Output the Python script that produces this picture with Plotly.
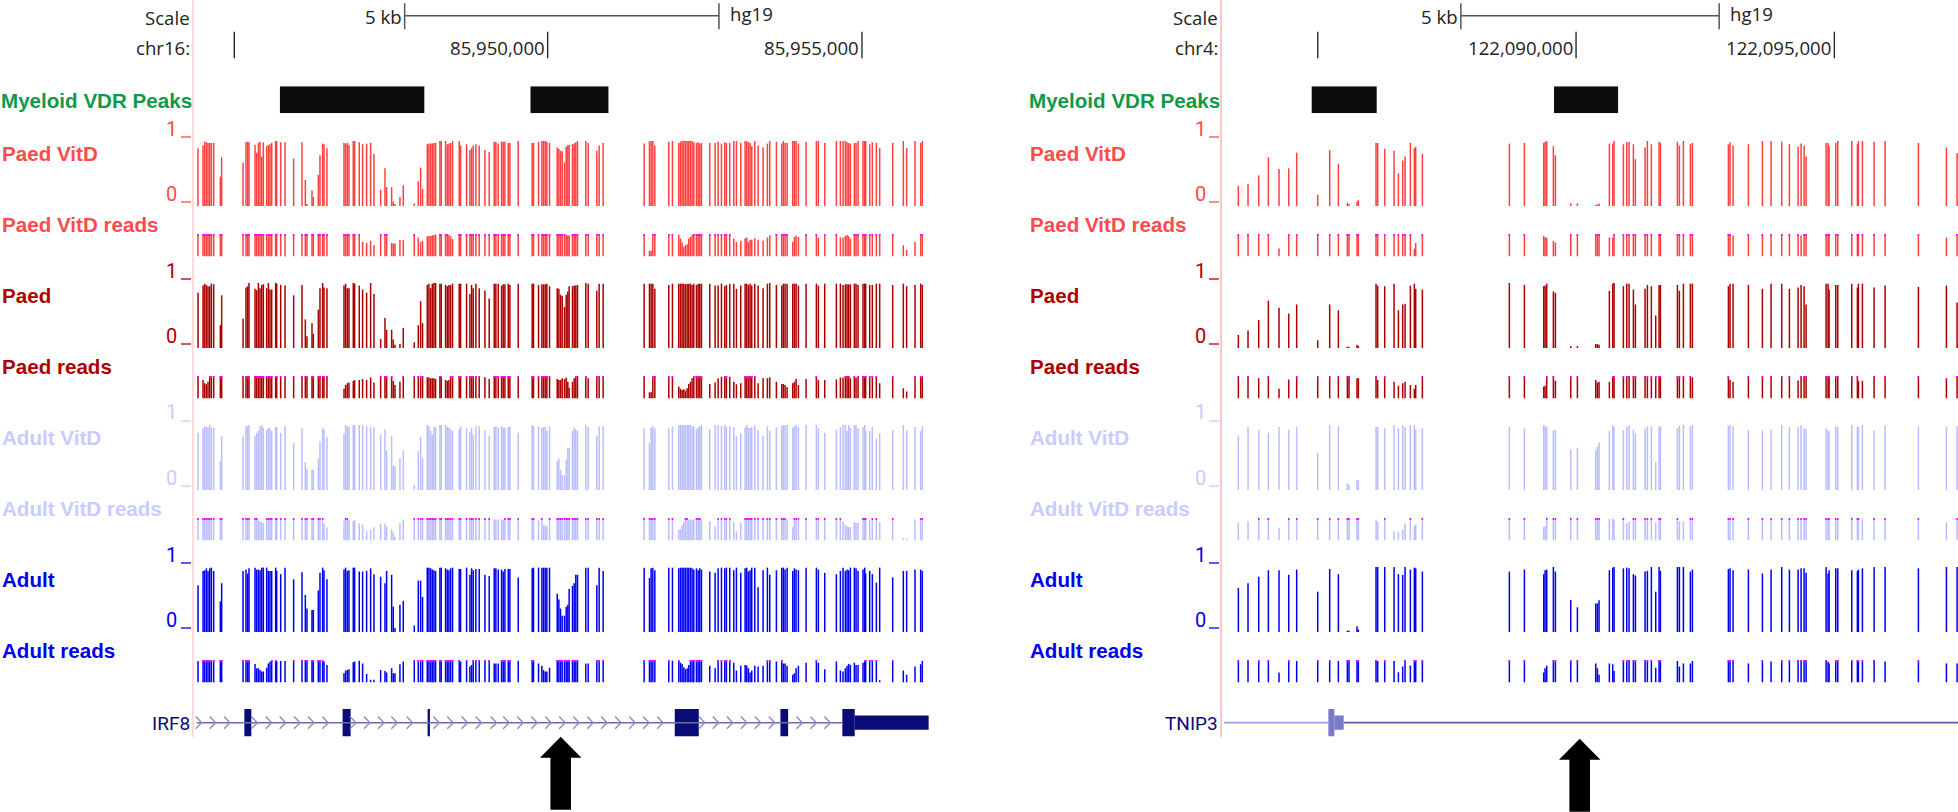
import plotly.graph_objects as go

W, H = 1958, 812

# ---------------- region 1: IRF8, chr16 ----------------
IRF8_REF = 85945000
IRF8_SITES = [
-562,-482,-456,-429,-403,-376,-350,-313,-207,-186,
154,201,228,249,345,371,398,424,451,477,530,557,583,610,673,689,753,822,
959,1092,1145,1171,1251,1272,1352,1378,1420,1442,1489,
1760,1786,1813,1839,1908,1929,2003,2056,2120,2184,2237,
2343,2412,2438,2518,2544,2571,2650,2703,
2878,2942,2979,3010,
3085,3111,3138,3164,3191,3217,3286,3307,3376,3403,3429,3456,3487,
3593,3615,
3710,3763,3790,3816,3858,3911,4002,4070,4150,4176,4214,
4267,4293,4320,4373,4399,4532,
4754,4775,4855,4908,4934,4961,4987,5030,
5152,5178,5205,5231,5268,5295,5321,5342,5395,5422,5448,5475,
5607,5645,5782,5819,5883,
6535,6620,6646,6673,6705,
6927,6985,7086,7113,7139,7166,7192,7219,7245,7272,7298,7325,7367,7394,7420,7447,
7579,7664,7712,7765,7818,7844,7897,7961,8003,8072,8141,8167,8194,8220,8247,8295,8348,8427,8496,8533,
8639,8724,8750,8777,8809,
8899,8925,8952,8989,
9111,9275,9307,9408,
9593,9657,9699,9736,9763,9789,9816,
9879,9906,9938,
10017,10044,10059,
10123,10165,10229,10282,10489,
10658,10711,10844,10934,10960]

IRF8_PAED_VITD = [
89,93,99,98,97,97,97,97,45,75,
67,98,99,98,94,82,97,99,76,98,92,94,95,97,100,100,98,98,
73,98,40,3,24,14,48,78,96,95,89,
97,96,97,94,100,100,98,95,96,97,80,
25,58,29,29,7,3,14,32,
4,38,59,26,
95,96,96,96,97,97,100,100,100,95,96,97,100,
100,93,
95,86,89,93,95,93,86,83,99,99,96,
99,99,99,97,97,100,
97,97,99,100,100,100,99,97,
90,88,85,84,67,91,94,94,95,96,98,100,
100,97,85,93,97,
96,100,100,100,93,
99,100,97,99,100,100,100,100,100,100,100,98,97,98,96,97,
97,97,99,96,98,97,97,100,100,97,100,99,99,97,92,100,93,90,96,100,
99,96,100,97,97,
100,100,100,96,
99,100,100,97,
100,100,100,100,98,97,96,
97,97,100,
100,100,100,
95,98,97,89,97,
100,89,100,97,100]
IRF8_PAED_VITD_READS = [
100,100,100,100,100,100,100,100,100,100,
100,100,100,100,100,100,100,100,100,100,100,100,100,100,100,100,100,100,
100,100,100,100,100,100,100,100,100,100,100,
100,100,100,100,100,100,100,65,60,70,50,
100,100,100,60,58,58,75,72,
100,84,65,70,
90,91,91,94,94,98,100,100,100,100,97,90,78,
100,100,
100,100,100,100,100,100,100,100,100,100,100,
100,100,100,100,100,100,
100,100,100,100,100,100,100,100,
100,100,100,100,100,97,94,92,100,100,100,100,
100,100,100,100,100,
100,26,26,100,100,
100,100,97,80,62,43,50,55,80,87,97,100,100,100,100,100,
100,100,100,100,100,100,100,80,65,70,80,84,65,75,75,81,75,70,84,94,
100,100,100,100,100,
65,87,93,87,
100,100,83,100,
100,84,84,91,96,90,80,
100,100,100,
100,100,100,
100,100,100,100,100,
50,29,65,100,100]
IRF8_PAED = [
85,96,99,97,95,95,99,98,35,81,
45,93,95,100,91,89,100,92,97,98,92,100,90,90,100,99,97,96,
81,97,44,18,38,22,59,92,100,93,92,
96,99,92,92,100,99,96,90,85,100,83,
14,46,28,28,13,5,6,31,
9,35,72,38,
97,99,92,99,100,100,99,99,97,95,97,97,99,
99,99,
99,83,97,92,99,92,88,76,99,99,99,
96,98,98,99,97,99,
99,99,97,98,98,98,99,95,
92,91,82,80,63,82,87,95,95,96,96,97,
100,99,88,99,99,
99,99,99,99,91,
97,99,99,99,99,99,98,99,99,99,97,99,97,99,99,99,
99,96,96,99,95,97,99,99,91,96,99,99,97,99,96,99,96,92,99,100,
97,96,99,99,99,
99,99,99,96,
99,99,96,99,
99,99,97,98,98,98,98,
99,99,97,
99,99,99,
97,97,99,99,97,
99,95,97,99,97]
IRF8_PAED_READS = [
100,82,68,63,75,100,100,100,100,100,
100,100,100,100,100,100,100,100,100,100,100,100,100,100,100,100,100,100,
100,100,100,100,100,100,100,100,100,100,100,
43,60,68,71,78,82,82,87,82,93,71,
100,100,100,100,78,60,75,100,
100,100,100,100,
95,93,90,90,90,87,100,100,82,78,82,100,100,
100,100,
100,100,100,100,100,100,94,87,100,100,100,
100,100,100,100,100,100,
100,100,100,100,100,100,100,100,
87,82,82,90,87,93,75,48,75,90,100,100,
100,90,100,100,100,
100,28,28,100,100,
100,100,53,43,38,41,34,46,65,75,90,100,100,100,100,100,
65,71,90,97,100,100,97,75,63,68,100,100,100,100,100,100,68,90,90,94,
75,65,65,60,50,
68,75,87,60,
87,100,82,82,
85,93,93,100,100,100,90,
100,93,100,
100,100,100,
100,100,100,68,100,
46,31,100,100,100]
IRF8_ADULT_VITD = [
88,95,98,97,96,100,96,96,45,83,
82,98,98,100,83,88,91,98,100,96,92,96,95,91,97,97,88,98,
72,95,43,33,31,31,48,75,96,93,82,
87,100,98,97,100,100,100,100,98,97,96,
85,93,60,83,37,36,49,60,
8,60,82,49,
100,98,91,85,96,97,100,100,100,97,96,93,91,
93,98,
95,90,96,85,98,98,92,83,97,98,96,
98,96,96,97,98,88,
100,98,98,96,96,97,91,98,
44,48,31,23,23,47,65,65,91,96,93,91,
100,97,84,98,98,
95,72,96,98,95,
95,98,100,100,100,100,99,100,100,100,98,98,94,96,98,100,
93,100,100,98,100,97,98,97,83,87,96,100,96,95,97,100,92,83,98,91,
96,98,100,100,100,
96,98,100,97,
100,100,95,88,
93,97,100,100,91,100,96,
100,100,95,
97,100,91,
91,97,79,87,92,
100,92,97,91,98]
IRF8_ADULT_VITD_READS = [
100,100,100,100,100,100,100,100,100,100,
100,100,100,100,100,100,90,85,81,78,100,100,100,100,100,100,100,100,
100,100,100,100,100,100,100,100,100,74,59,
90,100,100,93,85,90,75,71,41,49,59,
74,74,63,49,34,15,78,93,
100,100,100,100,
100,100,100,100,100,100,100,100,100,100,100,100,100,
100,100,
100,100,100,100,100,100,100,100,93,93,93,
93,93,100,100,100,100,
100,100,90,100,68,68,63,100,
100,100,100,100,100,100,100,100,100,100,100,100,
100,100,100,100,100,
100,100,100,100,100,
100,100,49,49,71,82,100,100,93,93,93,93,100,100,100,93,
85,62,100,100,100,100,100,81,41,78,100,100,100,100,100,100,100,100,100,100,
100,100,100,100,93,
59,100,100,100,
100,100,100,100,
100,100,85,71,63,59,59,
82,78,78,
100,100,100,
90,100,100,82,100,
9,9,93,100,100]
IRF8_ADULT = [
72,94,95,98,94,98,99,94,47,75,
94,96,90,98,99,96,96,95,99,99,99,94,94,94,99,94,89,99,
81,92,57,36,34,34,64,91,99,95,81,
96,99,94,95,99,99,93,93,94,98,89,
85,75,94,88,39,6,42,48,
10,79,79,54,
99,99,98,96,95,94,99,99,98,96,95,98,99,
97,97,
99,88,98,95,97,97,88,86,98,98,96,
96,93,97,97,97,84,
98,99,99,99,99,99,99,99,
59,50,36,25,25,39,42,66,71,75,88,88,
99,99,72,99,94,
99,83,98,99,95,
99,99,98,99,99,99,99,99,99,99,98,96,98,95,98,96,
93,91,98,99,98,99,99,95,99,91,98,99,93,95,99,99,69,95,99,88,
95,99,99,96,99,
94,98,96,95,
99,99,96,91,
89,94,99,94,96,95,99,
99,98,94,
96,99,90,
94,89,76,99,84,
94,94,96,96,94]
IRF8_ADULT_READS = [
96,100,100,100,100,100,100,100,100,100,
100,100,100,100,82,63,63,56,49,49,66,85,93,100,100,96,96,96,
100,100,100,100,100,100,100,100,100,93,78,
41,53,56,59,90,93,97,85,38,12,12,
56,51,44,63,41,41,81,93,
100,100,100,100,
100,100,100,100,100,100,100,100,100,100,100,100,100,
100,93,
100,71,78,100,100,100,100,100,85,85,85,
100,100,100,100,100,97,
100,100,85,74,56,49,49,66,
100,100,100,100,100,100,100,100,100,100,100,100,
85,85,100,100,100,
100,100,100,100,100,
100,97,100,88,82,68,59,63,78,100,100,100,100,100,100,100,
74,63,100,100,100,100,100,88,53,74,78,76,63,44,53,74,71,74,100,100,
93,100,85,85,74,
34,41,63,74,
88,100,88,59,
93,53,49,63,74,82,78,
88,78,78,
88,100,100,
100,100,100,10,100,
53,34,71,81,96]

IRF8_PEAK_START = [741, 4727]
IRF8_PEAK_END = [3038, 5967]
IRF8_LINE = [-583, 9688]
IRF8_EXON_START = [175, 1738, 3090, 7022, 8703, 9688]
IRF8_EXON_END = [286, 1866, 3127, 7404, 8825, 9885]
IRF8_UTR_START = [9885]
IRF8_UTR_END = [11061]
IRF8_CHEVRONS = [
-503,-281,-53,
382,610,832,1060,1282,1510,
1950,2173,2396,2608,2852,
3276,3498,3726,3949,4187,
4388,4611,4834,5056,5279,5501,5724,5946,6169,6392,6614,6837,
7500,7722,7945,8168,8390,8613,
9052,9275,9498]
IRF8_TICKS = [15, 5000, 10000]
IRF8_TICK_TEXT = ["", "85,950,000", "85,955,000"]
IRF8_SCALE = [2725, 7725]

# ---------------- region 2: TNIP3, chr4 ----------------
TNIP3_REF = 122090000
TNIP3_SITES = [
-6537,-6350,-6143,-5956,-5750,-5562,-5408,
-5001,-4769,-4601,-4427,-4395,-4240,-4214,
-3872,-3840,-3704,-3523,-3439,-3356,-3310,-3207,-3130,-3104,-2975,
-1291,-1000,-626,-600,-568,-439,-400,-103,26,381,413,445,645,710,736,916,981,1026,1110,1149,
1336,1381,1458,1542,1607,1633,1962,2000,2078,2213,2252,
2949,2981,3039,3336,3607,3775,3981,4130,4298,4356,4414,4453,4840,4878,4898,5027,5066,
5337,5446,5466,5543,5769,5982,6627,7169,7376]
TNIP3_PAED_VITD = [
31,34,47,75,57,58,82,
17,86,65,5,3,7,9,
97,97,88,85,50,70,76,97,89,91,80,
96,97,97,99,100,92,78,4,4,2,2,4,96,96,100,95,98,99,95,72,
90,100,95,0,99,97,99,93,100,95,97,
95,98,93,95,100,100,99,95,91,96,93,76,97,97,92,97,100,
100,95,100,100,99,100,97,90,81]
TNIP3_PAED_VITD_READS = [
100,100,100,100,36,100,100,
100,100,100,100,100,100,100,
100,100,100,100,100,100,100,100,35,60,100,
100,100,91,85,85,70,62,100,100,100,100,100,85,85,100,100,100,100,100,100,
100,100,100,0,100,100,100,100,100,100,100,
100,100,95,100,100,100,100,100,100,95,100,100,100,100,100,100,100,
100,100,100,100,100,100,100,85,100]
TNIP3_PAED = [
20,27,43,73,62,53,67,
12,67,58,2,2,5,3,
99,96,95,99,58,67,68,96,99,91,90,
100,97,95,96,99,87,85,3,3,6,6,5,88,99,100,95,99,99,90,67,
91,97,95,50,97,97,97,88,99,99,99,
95,99,99,97,91,99,99,91,93,97,95,67,99,99,90,97,97,
99,93,99,99,93,96,94,96,70]
TNIP3_PAED_READS = [
100,100,90,100,43,85,100,
100,100,100,100,100,90,90,
100,82,100,75,57,68,75,60,43,60,100,
100,100,53,57,100,100,79,100,100,82,71,75,75,100,100,100,100,100,100,100,
100,100,100,100,100,100,100,100,100,100,94,
100,82,75,100,100,100,100,100,80,100,100,100,100,100,100,100,100,
100,100,79,79,100,100,100,90,100]
TNIP3_ADULT_VITD = [
84,97,92,88,97,93,97,
57,100,98,10,8,15,15,
97,97,95,100,95,100,97,100,100,93,95,
97,95,100,98,97,92,93,62,65,61,67,73,91,100,97,92,97,100,93,87,
95,98,98,43,98,97,95,99,100,98,100,
99,100,98,92,92,93,100,97,97,100,95,93,95,92,90,98,97,
100,97,98,100,91,100,98,97,98]
TNIP3_ADULT_VITD_READS = [
78,85,100,100,56,100,100,
100,100,100,100,100,100,100,
90,82,100,41,38,49,75,100,66,71,100,
100,100,62,62,100,100,100,100,100,100,100,100,96,98,90,100,75,82,100,100,
100,100,100,81,100,100,100,85,85,100,100,
100,100,100,100,100,100,100,100,100,100,100,100,100,100,100,100,100,
100,100,100,98,100,100,100,81,100]
TNIP3_ADULT = [
68,75,85,95,95,88,96,
62,97,89,2,2,9,4,
100,100,100,100,89,88,100,96,99,98,93,
93,96,89,95,96,100,93,49,38,44,44,49,95,99,100,98,99,98,89,87,
93,94,100,62,100,94,100,100,100,93,96,
97,98,95,96,90,96,100,96,96,98,98,91,100,90,95,98,98,
95,94,96,98,100,100,98,100,100]
TNIP3_ADULT_READS = [
100,100,100,100,44,100,96,
100,100,96,100,100,100,100,
100,96,100,96,46,71,100,76,100,100,100,
100,100,44,63,74,100,100,100,100,85,63,34,85,81,51,100,100,100,100,100,
100,100,100,66,100,100,96,71,85,85,96,
100,100,100,85,100,93,100,100,100,100,100,100,100,93,85,100,100,
100,100,100,100,100,93,100,85,85]

TNIP3_PEAK_START = [-5117, -426]
TNIP3_PEAK_END = [-3859, 813]
TNIP3_LINE_LIGHT = [-6815, -4795]
TNIP3_LINE_DARK = [-4498, 7396]
TNIP3_EXON_START = [-4795]
TNIP3_EXON_END = [-4678]
TNIP3_UTR_START = [-4678]
TNIP3_UTR_END = [-4498]
TNIP3_TICKS = [-5000, 0, 5000]
TNIP3_TICK_TEXT = ["", "122,090,000", "122,095,000"]
TNIP3_SCALE = [-2230, 2770]

# ---------------- track styling ----------------
TRACK_NAMES = ["Paed VitD", "Paed VitD reads", "Paed", "Paed reads",
               "Adult VitD", "Adult VitD reads", "Adult", "Adult reads"]
TRACK_COLORS = ["#FF4040", "#FF4040", "#AA0000", "#AA0000",
                "#BABEFF", "#BABEFF", "#0000F0", "#0000F0"]
LABEL_COLORS = ["#FF4B4B", "#FF4B4B", "#AE0000", "#AE0000",
                "#C8CCFF", "#C8CCFF", "#0000F0", "#0000F0"]
GREEN = "#0E9A48"
NAVY = "#0A0A78"
MAGENTA = "#FF00FF"
TEXT_FONT = "Open Sans"
TEXT_SIZE = 18.6
LABEL_SIZE = 20.6


def px_x(p):
    return p / W


def px_y(p):
    return 1 - p / H


fig = go.Figure()
layout = dict(
    width=W, height=H, autosize=False, margin=dict(l=0, r=0, t=0, b=0, pad=0),
    paper_bgcolor="white", plot_bgcolor="white", barmode="overlay", showlegend=False,
    hovermode=False, annotations=[], shapes=[],
)
axis_counter = [0]


def new_y(xname, top, bottom, yrange):
    axis_counter[0] += 1
    n = axis_counter[0]
    key = "yaxis" if n == 1 else f"yaxis{n}"
    layout[key] = dict(domain=[px_y(bottom), px_y(top)], range=yrange, visible=False,
                       anchor=xname, fixedrange=True)
    return "y" if n == 1 else f"y{n}"


def note(text, x, y, color, size, anchor="left", bold=False, family="Liberation Sans"):
    t = f"<b>{text}</b>" if bold else text
    layout["annotations"].append(dict(
        text=t, x=px_x(x), y=px_y(y), xref="paper", yref="paper", xanchor=anchor, yanchor="middle",
        showarrow=False, borderpad=0, font=dict(color=color, size=size, family=family)))


def data_note(text, x, xname, y, xshift, anchor):
    layout["annotations"].append(dict(
        text=text, x=x, y=px_y(y), xref=xname, yref="paper", xanchor=anchor,
        yanchor="middle", xshift=xshift, showarrow=False, borderpad=0,
        font=dict(color="#222222", size=TEXT_SIZE, family=TEXT_FONT)))


def stems(xs, lows, highs, xname, yname, color, width):
    """One vertical stroke per site, from low to high on the track's own scale."""
    sx, sy = [], []
    for x, a, b in zip(xs, lows, highs):
        if b > a:
            sx += [x, x, None]
            sy += [a, b, None]
    fig.add_trace(go.Scatter(x=sx, y=sy, xaxis=xname, yaxis=yname, mode="lines",
                             line=dict(color=color, width=width)))


def panel(xname, xkey, ref, sites, tracks, range_lo, line_x1, px_per_bp, bar_px,
          label_x, tick_x0, tick_x1, num_x, red_x, red_w,
          ticks, tick_text, chrom, scale, peak_s, peak_e, gene_name, arrow_x, arrow_top):
    layout[xkey] = dict(domain=[px_x(red_x), px_x(line_x1)], visible=False, fixedrange=True,
                        range=[ref + range_lo, ref + range_lo + (line_x1 - red_x) / px_per_bp])
    xs = [ref + s for s in sites]

    # ruler
    y_r = new_y(xname, 0, 60, [60, 0])
    tx, ty = [], []
    for t in ticks:
        tx += [ref + t, ref + t, None]
        ty += [31.7, 58.3, None]
    fig.add_trace(go.Scatter(x=tx, y=ty, xaxis=xname, yaxis=y_r, mode="lines",
                             line=dict(color="#2a2a2a", width=1.4)))
    sx = [ref + scale[0], ref + scale[1]]
    fig.add_trace(go.Scatter(x=[sx[0], sx[0], None, sx[1], sx[1], None, sx[0], sx[1]],
                             y=[3.3, 29.3, None, 3.3, 29.3, None, 15.7, 15.7],
                             xaxis=xname, yaxis=y_r, mode="lines",
                             line=dict(color="#555555", width=1.5)))
    for t, s in zip(ticks, tick_text):
        if s:
            data_note(s, ref + t, xname, 47, -2, "right")
    data_note("5 kb", sx[0], xname, 16.5, -2, "right")
    data_note("hg19", sx[1], xname, 13, 10, "left")
    note("Scale", red_x - 2, 17, "#222222", TEXT_SIZE, "right", family=TEXT_FONT)
    note(chrom, red_x - 2, 47, "#222222", TEXT_SIZE, "right", family=TEXT_FONT)

    # peaks
    y_p = new_y(xname, 86.3, 113.3, [0, 1])
    fig.add_trace(go.Bar(
        x=[ref + (a + b) / 2 for a, b in zip(peak_s, peak_e)], y=[1] * len(peak_s),
        width=[b - a for a, b in zip(peak_s, peak_e)], xaxis=xname, yaxis=y_p,
        marker=dict(color="#0d0d0d", line=dict(width=0))))
    note("Myeloid VDR Peaks", red_x, 101, GREEN, LABEL_SIZE, "right", bold=True)

    # signal tracks
    for i, (name, vals, color, lcolor) in enumerate(zip(TRACK_NAMES, tracks, TRACK_COLORS, LABEL_COLORS)):
        assert len(vals) == len(sites), (name, len(vals), len(sites))
        block = (i // 2) * 142
        if i % 2 == 0:
            y_t = new_y(xname, 141 + block, 206 + block, [0, 100])
            stems(xs, [0] * len(vals), vals, xname, y_t, color, bar_px)
            for lab, ty_, lab_y in (("1", 137, 128.5), ("0", 202, 194)):
                layout["shapes"].append(dict(
                    type="line", xref="paper", yref="paper", x0=px_x(tick_x0), x1=px_x(tick_x1),
                    y0=px_y(ty_ + block), y1=px_y(ty_ + block), line=dict(color=lcolor, width=1.3)))
                note(lab, num_x, lab_y + block, lcolor, 20, "center", family="Roboto")
            note(name, label_x, 153 + block, lcolor, LABEL_SIZE, "left", bold=True)
        else:
            y_t = new_y(xname, 234 + block, 256.5 + block, [0, 100])
            stems(xs, [0] * len(vals), vals, xname, y_t, color, bar_px)
            cap = [x for x, v in zip(xs, vals) if v >= 100]
            stems(cap, [91] * len(cap), [100] * len(cap), xname, y_t, MAGENTA, bar_px)
            note(name, label_x, 224 + block, lcolor, LABEL_SIZE, "left", bold=True)

    # red guide
    layout["shapes"].append(dict(type="line", xref="paper", yref="paper",
                                 x0=px_x(red_x), x1=px_x(red_x), y0=1, y1=px_y(737),
                                 line=dict(color="#FFC6C6", width=red_w)))
    note(gene_name, red_x - 2, 723.5, NAVY, 19, "right", family="Roboto")

    # arrow
    cx, t = arrow_x, arrow_top
    pts = [(cx, t), (cx + 20.7, t + 21), (cx + 10.3, t + 21), (cx + 10.3, t + 73),
           (cx - 10.3, t + 73), (cx - 10.3, t + 21), (cx - 20.7, t + 21)]
    path = "M" + " L".join(f"{px_x(a):.5f},{px_y(b):.5f}" for a, b in pts) + " Z"
    layout["shapes"].append(dict(type="path", xref="paper", yref="paper", path=path,
                                 fillcolor="black", line=dict(width=0)))
    return new_y(xname, 709.0, 736.4, [-1, 1])


y_g1 = panel("x", "xaxis", IRF8_REF, IRF8_SITES,
             [IRF8_PAED_VITD, IRF8_PAED_VITD_READS, IRF8_PAED, IRF8_PAED_READS,
              IRF8_ADULT_VITD, IRF8_ADULT_VITD_READS, IRF8_ADULT, IRF8_ADULT_READS],
             -642, 960, 62.86 / 1000, 1.5,
             1, 181, 191, 171, 193, 1.3,
             IRF8_TICKS, IRF8_TICK_TEXT, "chr16:", IRF8_SCALE,
             IRF8_PEAK_START, IRF8_PEAK_END, "IRF8", 560.7, 736.7)
y_g2 = panel("x2", "xaxis2", TNIP3_REF, TNIP3_SITES,
             [TNIP3_PAED_VITD, TNIP3_PAED_VITD_READS, TNIP3_PAED, TNIP3_PAED_READS,
              TNIP3_ADULT_VITD, TNIP3_ADULT_VITD_READS, TNIP3_ADULT, TNIP3_ADULT_READS],
             -6873, 1958, 51.66 / 1000, 1.5,
             1029, 1209, 1219, 1200, 1221, 2,
             TNIP3_TICKS, TNIP3_TICK_TEXT, "chr4:", TNIP3_SCALE,
             TNIP3_PEAK_START, TNIP3_PEAK_END, "TNIP3", 1579.7, 738.7)

# IRF8 gene model
R = IRF8_REF
fig.add_trace(go.Scatter(x=[R + v for v in IRF8_LINE], y=[0, 0], xaxis="x", yaxis=y_g1, mode="lines",
                         line=dict(color="#6C6CA8", width=1.6)))
cx, cy = [], []
for c in IRF8_CHEVRONS:
    cx += [R + c - 95, R + c, R + c - 95, None]
    cy += [0.45, 0, -0.45, None]
fig.add_trace(go.Scatter(x=cx, y=cy, xaxis="x", yaxis=y_g1, mode="lines",
                         line=dict(color="#8C8CC0", width=1.4)))
fig.add_trace(go.Bar(x=[R + (a + b) / 2 for a, b in zip(IRF8_EXON_START, IRF8_EXON_END)],
                     y=[2] * len(IRF8_EXON_START), base=-1,
                     width=[b - a for a, b in zip(IRF8_EXON_START, IRF8_EXON_END)],
                     xaxis="x", yaxis=y_g1, marker=dict(color=NAVY, line=dict(width=0))))
fig.add_trace(go.Bar(x=[R + (a + b) / 2 for a, b in zip(IRF8_UTR_START, IRF8_UTR_END)],
                     y=[1.04], base=-0.52,
                     width=[b - a for a, b in zip(IRF8_UTR_START, IRF8_UTR_END)],
                     xaxis="x", yaxis=y_g1, marker=dict(color=NAVY, line=dict(width=0))))

# TNIP3 gene model
R = TNIP3_REF
fig.add_trace(go.Scatter(x=[R + v for v in TNIP3_LINE_LIGHT], y=[0, 0], xaxis="x2", yaxis=y_g2, mode="lines",
                         line=dict(color="#9C9CD8", width=1.8)))
fig.add_trace(go.Scatter(x=[R + v for v in TNIP3_LINE_DARK], y=[0, 0], xaxis="x2", yaxis=y_g2, mode="lines",
                         line=dict(color="#5C5CA4", width=1.8)))
fig.add_trace(go.Bar(x=[R + (a + b) / 2 for a, b in zip(TNIP3_EXON_START, TNIP3_EXON_END)],
                     y=[2], base=-1, width=[b - a for a, b in zip(TNIP3_EXON_START, TNIP3_EXON_END)],
                     xaxis="x2", yaxis=y_g2, marker=dict(color="#7A7ACC", line=dict(width=0))))
fig.add_trace(go.Bar(x=[R + (a + b) / 2 for a, b in zip(TNIP3_UTR_START, TNIP3_UTR_END)],
                     y=[1.04], base=-0.52, width=[b - a for a, b in zip(TNIP3_UTR_START, TNIP3_UTR_END)],
                     xaxis="x2", yaxis=y_g2, marker=dict(color="#7A7ACC", line=dict(width=0))))

fig.update_layout(**layout)
fig.write_html("out.html", post_script="document.body.style.margin='0';document.body.style.overflow='hidden';",
               config={"displayModeBar": False})
